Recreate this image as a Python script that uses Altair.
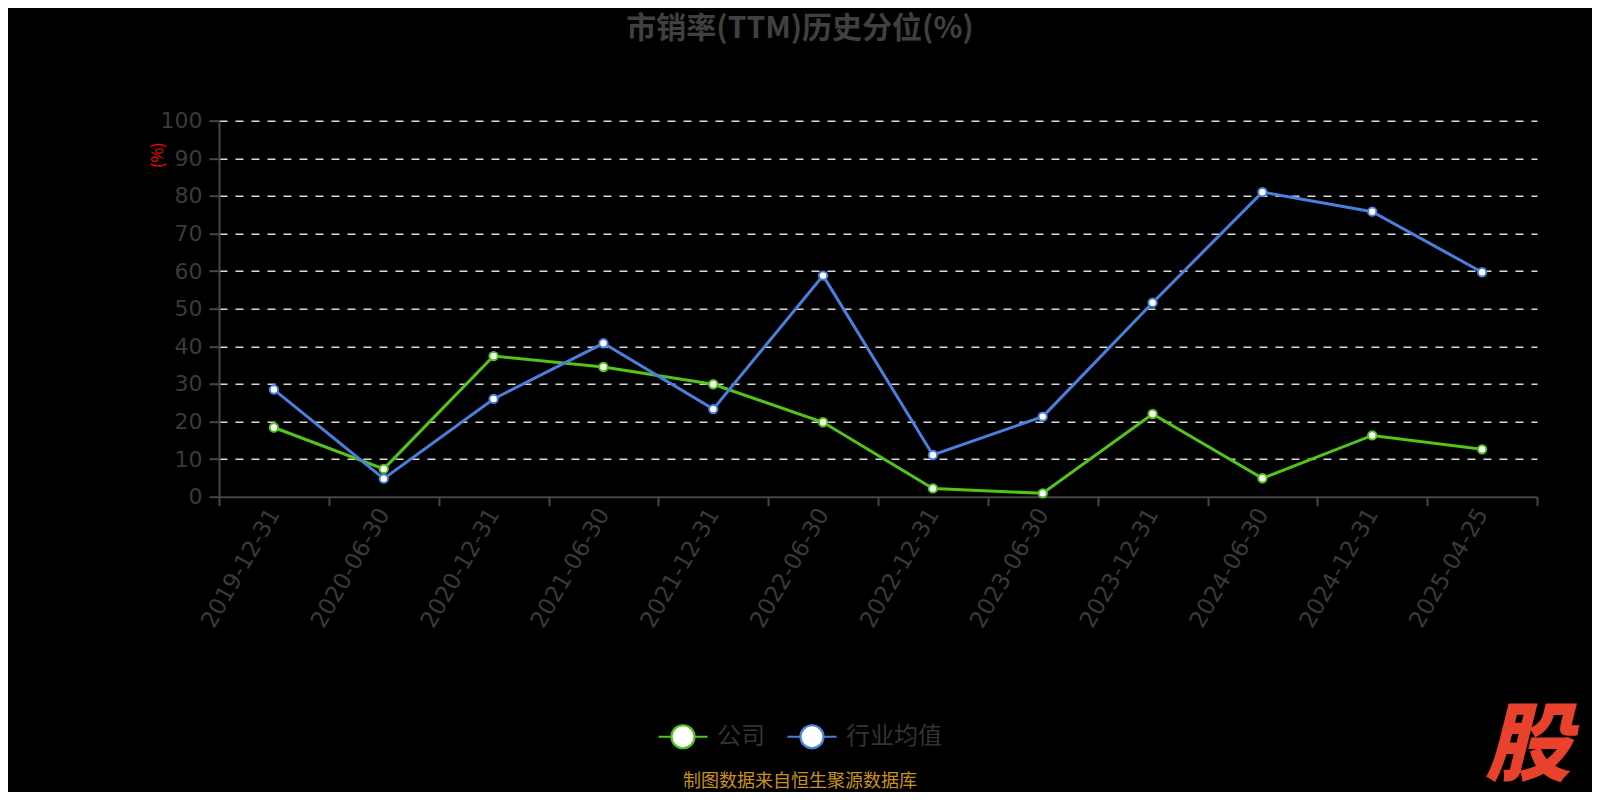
import altair as alt
import pandas as pd

dates = ["2019-12-31", "2020-06-30", "2020-12-31", "2021-06-30", "2021-12-31", "2022-06-30",
         "2022-12-31", "2023-06-30", "2023-12-31", "2024-06-30", "2024-12-31", "2025-04-25"]
company = [18.4, 7.4, 37.4, 34.5, 29.9, 19.8, 2.2, 0.9, 22.0, 4.9, 16.3, 12.6]
industry = [28.5, 4.8, 26.0, 40.8, 23.3, 58.8, 11.1, 21.3, 51.6, 81.0, 75.8, 59.7]
series_names = ["公司", "行业均值"]
series_colors = ["#52c41a", "#4a80dd"]
y_ticks = [0, 10, 20, 30, 40, 50, 60, 70, 80, 90, 100]

title_text = "市销率(TTM)历史分位(%)"
footer_text = "制图数据来自恒生聚源数据库"
mark_text = "股"

FONT = "Noto Sans CJK SC"
NUM_FONT = "DejaVu Sans"

rows = []
for name, vals in zip(series_names, [company, industry]):
    for d, v in zip(dates, vals):
        rows.append({"date": d, "value": v, "series": name})
df = pd.DataFrame(rows)

W, H = 1318, 376
PAD = {"left": 211, "top": 112.7, "right": 55, "bottom": 295.3}

x_enc = alt.X(
    "date:N", sort=dates,
    scale=alt.Scale(type="band", paddingInner=0, paddingOuter=0),
    axis=alt.Axis(
        title=None, tickBand="extent", labelAngle=-60, labelAlign="right", labelBaseline="middle",
        labelFontSize=23, labelColor="#3a3a3a", labelFont=NUM_FONT, labelPadding=4,
        domainColor="#464646", domainWidth=2, tickColor="#464646", tickWidth=2, tickSize=9,
        grid=False, labelOverlap=False,
    ),
)
y_enc = alt.Y(
    "value:Q",
    scale=alt.Scale(domain=[0, 100], nice=False),
    axis=alt.Axis(
        title="(%)", titleColor="#ff0000", titleFontSize=16, titleFont=FONT, titleFontWeight="normal",
        titleAngle=-90, titleX=-62, titleY=34, titleAlign="center", titleBaseline="middle",
        values=y_ticks, labelFontSize=22, labelColor="#3a3a3a", labelFont=NUM_FONT, labelPadding=7,
        domainColor="#464646", domainWidth=2, tickColor="#464646", tickWidth=2, tickSize=10,
        grid=True, gridColor="#d9d9d9", gridDash=[8, 8], gridWidth=1.6,
        gridOpacity={"condition": {"test": "datum.value === 0", "value": 0}, "value": 1},
    ),
)

base = alt.Chart(df)
# line colours: same mapping, domain listed in reverse order so that its (hidden) legend
# is not merged with the visible stroke legend of the point layer
lines = base.mark_line(strokeWidth=3).encode(
    x=x_enc, y=y_enc,
    color=alt.Color("series:N", scale=alt.Scale(domain=series_names[::-1], range=series_colors[::-1]),
                    legend=None),
    order=alt.Order("series:N"),
)
legend_path = "M-1,0H-0.47 M0.47,0H1 M0.47,0A0.47,0.47 0 1,1 -0.47,0A0.47,0.47 0 1,1 0.47,0Z"
points = base.mark_point(filled=True, fill="white", fillOpacity=1, strokeWidth=2, size=70, opacity=1).encode(
    x=x_enc, y=y_enc,
    stroke=alt.Stroke(
        "series:N", scale=alt.Scale(domain=series_names, range=series_colors),
        legend=alt.Legend(
            title=None, orient="none", direction="horizontal", legendX=438, legendY=590,
            symbolType=legend_path, symbolSize=2401, symbolStrokeWidth=2.2, symbolFillColor="#ffffff",
            symbolOpacity=1,
            labelFontSize=24, labelFont=FONT, labelColor="#333333", labelOffset=8,
            columnPadding=18, padding=0,
        ),
    ),
)

extra = pd.DataFrame({"title": [title_text], "footer": [footer_text], "mark": [mark_text]})
title = alt.Chart(extra).mark_text(
    font=FONT, fontSize=30, fontWeight="bold", color="#404040", align="center", baseline="middle"
).encode(text="title:N", x=alt.value(581), y=alt.value(-92))
footer = alt.Chart(extra).mark_text(
    font=FONT, fontSize=18, color="#c8921a", align="center", baseline="middle"
).encode(text="footer:N", x=alt.value(581), y=alt.value(661))
watermark = alt.Chart(extra).mark_text(
    font=FONT, fontSize=86, fontWeight=900, fontStyle="italic", color="#e8412c",
    align="center", baseline="middle"
).encode(text="mark:N", x=alt.value(1309), y=alt.value(627))

chart = alt.layer(lines, points, title, footer, watermark).properties(
    width=W, height=H,
    autosize=alt.AutoSizeParams(type="none"),
    padding=PAD,
    background="#000000",
).configure_view(stroke=None)

chart.save("out.html", embed_options={"renderer": "svg", "actions": False})
